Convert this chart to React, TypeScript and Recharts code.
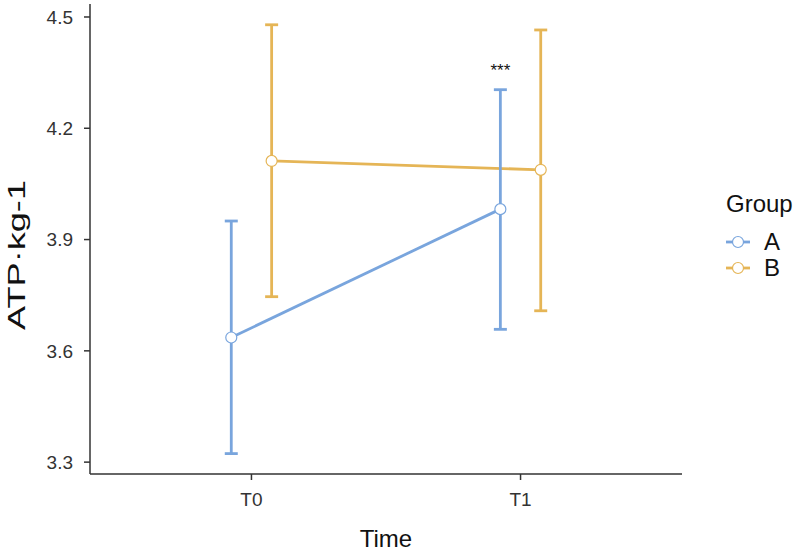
import React from 'react';
import { ComposedChart, Line, ErrorBar, XAxis, YAxis, ReferenceDot, Label } from 'recharts';

const times = ['T0', 'T1'];
const groups = ['A', 'B'];
const groupColors = ['#79A5DD', '#E5B556'];
const meanA = [3.636, 3.982];
const lowA = [3.323, 3.658];
const highA = [3.95, 4.304];
const meanB = [4.112, 4.088];
const lowB = [3.746, 3.708];
const highB = [4.479, 4.465];
const yTicks = [3.3, 3.6, 3.9, 4.2, 4.5];
// significance marks for group A at each time point
const sigLabels = ['', '***'];
const sigY = [0, 4.34];

const FONT = '"Liberation Sans", Arial, sans-serif';
const dodge = 0.075;

const buildSeries = (mean: number[], low: number[], high: number[], shift: number) =>
    mean.map((m, i) => ({
        x: i + 1 + shift,
        mean: m,
        err: [m - low[i], high[i] - m]
    }));

const seriesA = buildSeries(meanA, lowA, highA, -dodge);
const seriesB = buildSeries(meanB, lowB, highB, dodge);

const App = () => {
    const renderDot = (color: string) => (props: any) => (
        <circle key={`dot-${props.index}`} cx={props.cx} cy={props.cy} r={5.5} fill="#fff" stroke={color} strokeWidth={1.2} />
    );

    return (
        <div style={{ position: 'absolute', left: 0, top: 0, width: 800, height: 553, background: '#fff', fontFamily: FONT }}>
            <ComposedChart width={800} height={553} margin={{ top: 4, right: 118, bottom: 0, left: 0 }}>
                <XAxis
                    type="number"
                    dataKey="x"
                    domain={[0.4, 2.6]}
                    ticks={[1, 2]}
                    tickFormatter={(v: number) => times[Math.round(v) - 1]}
                    height={79}
                    allowDataOverflow
                    stroke="#333"
                    strokeWidth={1.5}
                    tickSize={6}
                    tickMargin={13}
                    tick={{ fill: '#333', fontSize: 19, fontFamily: FONT }}
                >
                    <Label
                        content={(p: any) => (
                            <text x={p.viewBox.x + p.viewBox.width / 2} y={p.viewBox.y + 73} textAnchor="middle" fontSize={24} fill="#111" fontFamily={FONT}>
                                Time
                            </text>
                        )}
                    />
                </XAxis>
                <YAxis
                    type="number"
                    domain={[3.268, 4.535]}
                    ticks={yTicks}
                    width={90}
                    allowDataOverflow
                    stroke="#333"
                    strokeWidth={1.5}
                    tickSize={6}
                    tickMargin={11}
                    tickFormatter={(v: number) => v.toFixed(1)}
                    tick={{ fill: '#333', fontSize: 19, fontFamily: FONT }}
                >
                    <Label
                        content={(p: any) => {
                            const cx = p.viewBox.x + 25;
                            const cy = p.viewBox.y + p.viewBox.height / 2 + 16;
                            return (
                                <text
                                    x={cx}
                                    y={cy}
                                    transform={`rotate(-90 ${cx} ${cy})`}
                                    textAnchor="middle"
                                    fontSize={24}
                                    textLength={150}
                                    lengthAdjust="spacingAndGlyphs"
                                    fill="#111"
                                    fontFamily={FONT}
                                >
                                    ATP·kg-1
                                </text>
                            );
                        }}
                    />
                </YAxis>
                <Line
                    data={seriesB}
                    dataKey="mean"
                    name={groups[1]}
                    stroke={groupColors[1]}
                    strokeWidth={2.8}
                    dot={renderDot(groupColors[1])}
                    activeDot={false}
                    isAnimationActive={false}
                >
                    <ErrorBar dataKey="err" direction="y" width={6.5} stroke={groupColors[1]} strokeWidth={2.8} isAnimationActive={false} />
                </Line>
                <Line
                    data={seriesA}
                    dataKey="mean"
                    name={groups[0]}
                    stroke={groupColors[0]}
                    strokeWidth={2.8}
                    dot={renderDot(groupColors[0])}
                    activeDot={false}
                    isAnimationActive={false}
                >
                    <ErrorBar dataKey="err" direction="y" width={6.5} stroke={groupColors[0]} strokeWidth={2.8} isAnimationActive={false} />
                </Line>
                {sigLabels.map((s, i) =>
                    s ? (
                        <ReferenceDot
                            key={`sig-${i}`}
                            x={i + 1 - dodge}
                            y={sigY[i]}
                            r={0}
                            shape={(p: any) => (
                                <text x={p.cx} y={p.cy} textAnchor="middle" fontSize={17} fill="#111" fontFamily={FONT}>
                                    {s}
                                </text>
                            )}
                        />
                    ) : null
                )}
            </ComposedChart>
            <div style={{ position: 'absolute', left: 726, top: 190, color: '#111' }}>
                <div style={{ fontSize: 24, lineHeight: '28px', marginBottom: 11 }}>Group</div>
                {groups.map((g, i) => (
                    <div key={g} style={{ display: 'flex', alignItems: 'center', height: 26 }}>
                        <svg width={26} height={20} style={{ marginRight: 12 }}>
                            <line x1={0} y1={10} x2={24} y2={10} stroke={groupColors[i]} strokeWidth={2.8} />
                            <circle cx={12} cy={10} r={5.5} fill="#fff" stroke={groupColors[i]} strokeWidth={1.2} />
                        </svg>
                        <span style={{ fontSize: 24 }}>{g}</span>
                    </div>
                ))}
            </div>
        </div>
    );
};

export default App;
